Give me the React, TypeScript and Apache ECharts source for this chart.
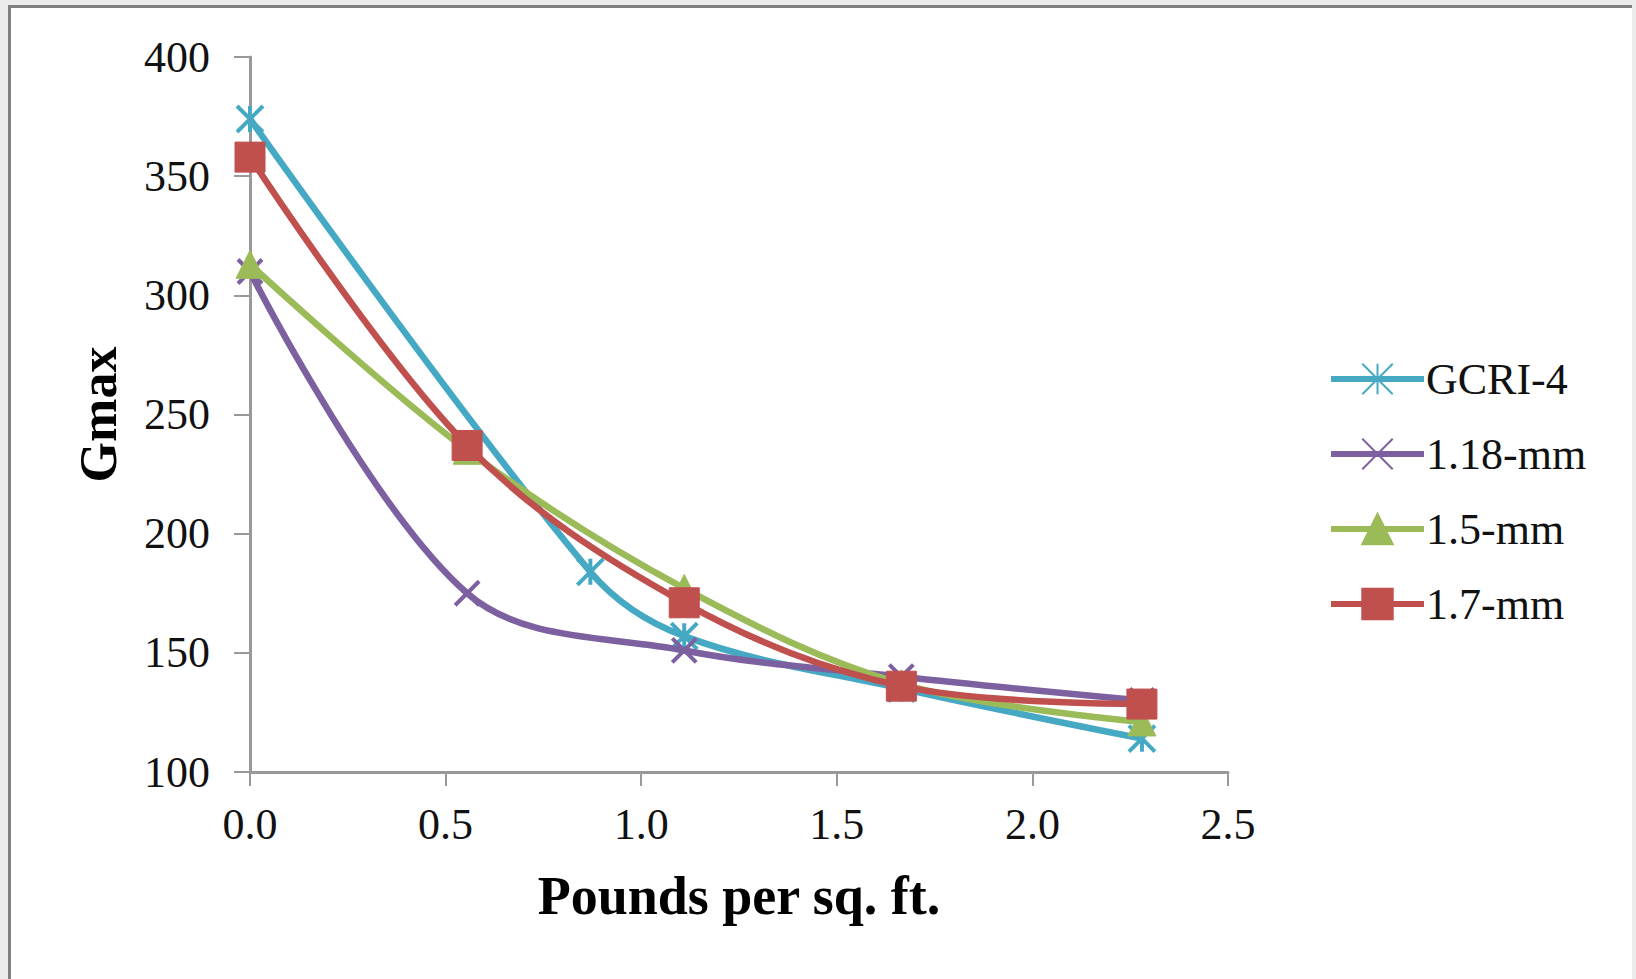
import React, { useEffect, useRef } from "react";
import * as echarts from "echarts";

const seriesNames = ["GCRI-4", "1.18-mm", "1.5-mm", "1.7-mm"];
const gcriX = [0, 0.87, 1.11, 1.665, 2.28];
const gcriY = [374, 184, 157, 135, 114];
const sharedX = [0, 0.555, 1.11, 1.665, 2.28];
const mm118Y = [310, 175, 151, 140, 130];
const mm15Y = [313, 235, 177, 137, 121];
const mm17Y = [358, 237, 171, 136, 128.5];
const yTicks = [100, 150, 200, 250, 300, 350, 400];
const xTicks = [0, 0.5, 1, 1.5, 2, 2.5];

const colors = ["#46A9C4", "#7D60A0", "#9BBB59", "#C0504D"];
const FONT = "'Liberation Serif', 'Times New Roman', serif";

const starPath = "path://M0,0L10,10M10,0L0,10M5,0L5,10";
const xPath = "path://M0,0L10,10M10,0L0,10";

function pairs(xs: number[], ys: number[]) {
  return xs.map((x, i) => [x, ys[i]]);
}

export default function App() {
  const ref = useRef<HTMLDivElement>(null);
  useEffect(() => {
    if (!ref.current) return;
    const chart = echarts.init(ref.current, null, { renderer: "svg" });
    const mk = (i: number, xs: number[], ys: number[], symbol: string, size: number, stroke: boolean) => ({
      name: seriesNames[i],
      type: "line",
      data: pairs(xs, ys),
      smooth: 0.35,
      symbol,
      symbolSize: size,
      showAllSymbol: true,
      lineStyle: { color: colors[i], width: 6.5 },
      itemStyle: stroke
        ? { color: "rgba(0,0,0,0)", borderColor: colors[i], borderWidth: 4 }
        : { color: colors[i], borderColor: colors[i], borderWidth: 1 },
      emphasis: { disabled: true },
      z: 2 + i,
    });
    chart.setOption({
      animation: false,
      backgroundColor: "#ffffff",
      grid: { left: 239, right: 404, top: 49, bottom: 210, containLabel: false },
      xAxis: {
        type: "value",
        min: xTicks[0],
        max: xTicks[xTicks.length - 1],
        interval: 0.5,
        name: "Pounds per sq. ft.",
        nameLocation: "middle",
        nameGap: 97,
        nameTextStyle: { fontFamily: FONT, fontSize: 54, fontWeight: "bold", color: "#000" },
        axisLine: { show: true, onZero: false, lineStyle: { color: "#999999", width: 3 } },
        axisTick: { show: true, inside: false, length: 14, lineStyle: { color: "#999999", width: 2 } },
        axisLabel: {
          fontFamily: FONT,
          fontSize: 44,
          color: "#111",
          margin: 30,
          formatter: (v: number) => v.toFixed(1),
        },
        splitLine: { show: false },
      },
      yAxis: {
        type: "value",
        min: yTicks[0],
        max: yTicks[yTicks.length - 1],
        interval: 50,
        name: "Gmax",
        nameLocation: "middle",
        nameRotate: 90,
        nameGap: 126,
        nameTextStyle: { fontFamily: FONT, fontSize: 52, fontWeight: "bold", color: "#000" },
        axisLine: { show: true, lineStyle: { color: "#999999", width: 3 } },
        axisTick: { show: true, inside: false, length: 16, lineStyle: { color: "#999999", width: 2 } },
        axisLabel: { fontFamily: FONT, fontSize: 44, color: "#111", margin: 40 },
        splitLine: { show: false },
      },
      legend: {
        orient: "vertical",
        left: 1312,
        top: 344,
        itemWidth: 93,
        itemHeight: 38,
        itemGap: 31,
        data: seriesNames,
        lineStyle: { width: 6 },
        textStyle: { fontFamily: FONT, fontSize: 44, color: "#111", lineHeight: 44, padding: [0, 0, 0, -3] },
      },
      series: [
        mk(0, gcriX, gcriY, starPath, 26, true),
        mk(1, sharedX, mm118Y, xPath, 24, true),
        mk(2, sharedX, mm15Y, "triangle", 28, false),
        mk(3, sharedX, mm17Y, "rect", 30, false),
      ],
    });
    return () => chart.dispose();
  }, []);

  return (
    <div
      style={{
        position: "fixed",
        left: 0,
        top: 0,
        width: 1636,
        height: 979,
        background: "#ececec",
        overflow: "hidden",
      }}
    >
      <div
        style={{
          position: "absolute",
          left: 8,
          top: 5,
          width: 1636 - 8 - 4,
          height: 979 - 5,
          borderLeft: "3px solid #808080",
          borderTop: "3px solid #808080",
          borderRight: "3px solid #808080",
          boxSizing: "border-box",
          background: "#ffffff",
        }}
      >
        <div ref={ref} style={{ position: "absolute", left: 0, top: 0, width: 1621, height: 974 }} />
      </div>
    </div>
  );
}
